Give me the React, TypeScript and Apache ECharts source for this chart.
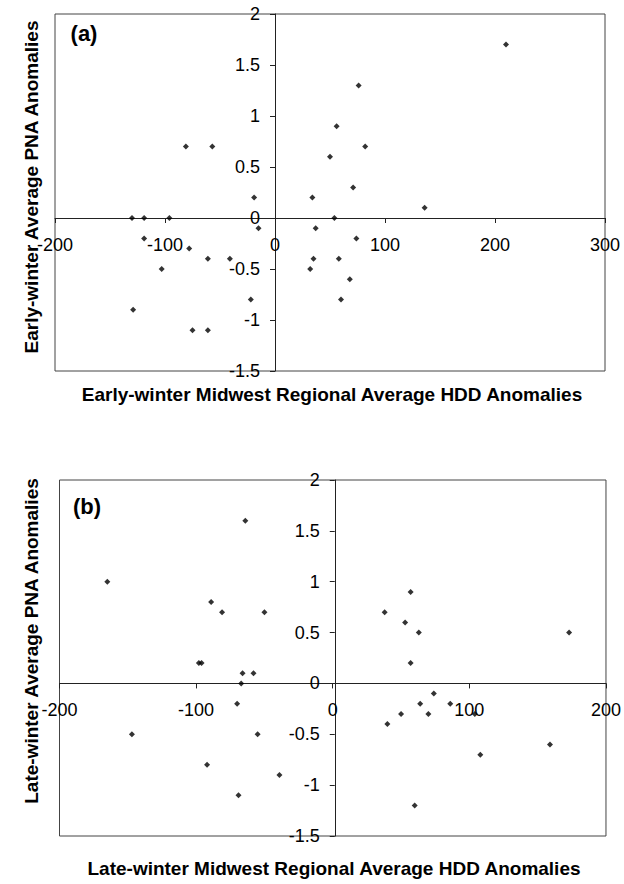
import React, { useEffect, useRef } from "react";
import * as echarts from "echarts";

// Panel (a): early winter
const earlyHDD = [-130, -119, -96, -119, -129, -103, -81, -57, -78, -61, -41, -75, -61, -19, -15, -22, 34, 37, 35, 32, 50, 56, 54, 58, 60, 68, 71, 74, 76, 82, 136, 210];
const earlyPNA = [0, 0, 0, -0.2, -0.9, -0.5, 0.7, 0.7, -0.3, -0.4, -0.4, -1.1, -1.1, 0.2, -0.1, -0.8, 0.2, -0.1, -0.4, -0.5, 0.6, 0.9, 0, -0.4, -0.8, -0.6, 0.3, -0.2, 1.3, 0.7, 0.1, 1.7];

// Panel (b): late winter
const lateHDD = [-165, -147, -98, -96, -92, -89, -81, -69, -70, -67, -66, -64, -58, -55, -50, -39, 38, 40, 50, 53, 57, 57, 60, 63, 64, 70, 74, 86, 104, 108, 159, 173];
const latePNA = [1.0, -0.5, 0.2, 0.2, -0.8, 0.8, 0.7, -1.1, -0.2, 0, 0.1, 1.6, 0.1, -0.5, 0.7, -0.9, 0.7, -0.4, -0.3, 0.6, 0.9, 0.2, -1.2, 0.5, -0.2, -0.3, -0.1, -0.2, -0.3, -0.7, -0.6, 0.5];

const xRangeA = [-200, 300];
const xRangeB = [-200, 200];
const yRange = [-1.5, 2];

const panelLabels = ["(a)", "(b)"];
const xTitles = [
  "Early-winter Midwest Regional Average HDD Anomalies",
  "Late-winter Midwest Regional Average HDD Anomalies",
];
const yTitles = [
  "Early-winter Average PNA Anomalies",
  "Late-winter Average PNA Anomalies",
];

const FONT = '"Liberation Sans", Arial, Helvetica, sans-serif';

type Box = { left: number; top: number; width: number; height: number };
const boxA: Box = { left: 55, top: 14, width: 550, height: 357 };
const boxB: Box = { left: 59.5, top: 480, width: 550.5, height: 356 };

export default function App() {
  const ref = useRef<HTMLDivElement>(null);

  useEffect(() => {
    if (!ref.current) return;
    const chart = echarts.init(ref.current, null, { renderer: "svg" });

    // Offsets that place each axis on the other axis's zero
    const zeroOffsetX = (b: Box) => -(b.height * (0 - yRange[0])) / (yRange[1] - yRange[0]);
    const zeroOffsetY = (b: Box, xr: number[]) => -(b.width * (0 - xr[0])) / (xr[1] - xr[0]);

    const mkX = (gridIndex: number, range: number[], b: Box) => ({
      type: "value",
      gridIndex,
      position: "bottom",
      offset: zeroOffsetX(b),
      min: range[0],
      max: range[1],
      interval: 100,
      splitLine: { show: false },
      axisLine: { onZero: false, lineStyle: { color: "#222", width: 1 } },
      axisTick: { show: true, inside: false, length: 5, lineStyle: { color: "#222" } },
      axisLabel: { fontSize: 18, color: "#000", fontFamily: FONT, margin: 18 },
    });
    const mkY = (gridIndex: number, range: number[], b: Box) => ({
      type: "value",
      gridIndex,
      position: "left",
      offset: zeroOffsetY(b, range),
      min: yRange[0],
      max: yRange[1],
      interval: 0.5,
      splitLine: { show: false },
      axisLine: { onZero: false, lineStyle: { color: "#222", width: 1 } },
      axisTick: { show: true, inside: false, length: 5, lineStyle: { color: "#222" } },
      axisLabel: { fontSize: 18, color: "#000", fontFamily: FONT, margin: 15 },
    });

    const titleStyle = (text: string) => ({
      text,
      font: `bold 19px ${FONT}`,
      fill: "#000",
      textAlign: "center",
      textVerticalAlign: "middle",
    });

    chart.setOption({
      animation: false,
      backgroundColor: "#fff",
      grid: [
        { ...boxA, show: true, borderColor: "#444", borderWidth: 1, backgroundColor: "transparent" },
        { ...boxB, show: true, borderColor: "#444", borderWidth: 1, backgroundColor: "transparent" },
      ],
      xAxis: [mkX(0, xRangeA, boxA), mkX(1, xRangeB, boxB)],
      yAxis: [mkY(0, xRangeA, boxA), mkY(1, xRangeB, boxB)],
      series: [
        {
          type: "scatter",
          xAxisIndex: 0,
          yAxisIndex: 0,
          symbol: "diamond",
          symbolSize: 6,
          itemStyle: { color: "#000" },
          data: earlyHDD.map((x, i) => [x, earlyPNA[i]]),
        },
        {
          type: "scatter",
          xAxisIndex: 1,
          yAxisIndex: 1,
          symbol: "diamond",
          symbolSize: 6,
          itemStyle: { color: "#000" },
          data: lateHDD.map((x, i) => [x, latePNA[i]]),
        },
      ],
      graphic: [
        { type: "text", x: 84, y: 33, style: { ...titleStyle(panelLabels[0]), font: `bold 22px ${FONT}` } },
        { type: "text", x: 87, y: 506, style: { ...titleStyle(panelLabels[1]), font: `bold 22px ${FONT}` } },
        { type: "text", x: 332, y: 394, style: titleStyle(xTitles[0]) },
        { type: "text", x: 334, y: 868, style: titleStyle(xTitles[1]) },
        { type: "text", x: 31, y: 187, rotation: Math.PI / 2, style: titleStyle(yTitles[0]) },
        { type: "text", x: 31, y: 641, rotation: Math.PI / 2, style: titleStyle(yTitles[1]) },
      ],
    });

    return () => chart.dispose();
  }, []);

  return (
    <div
      ref={ref}
      style={{ position: "absolute", left: 0, top: 0, width: 624, height: 884, background: "#fff" }}
    />
  );
}
